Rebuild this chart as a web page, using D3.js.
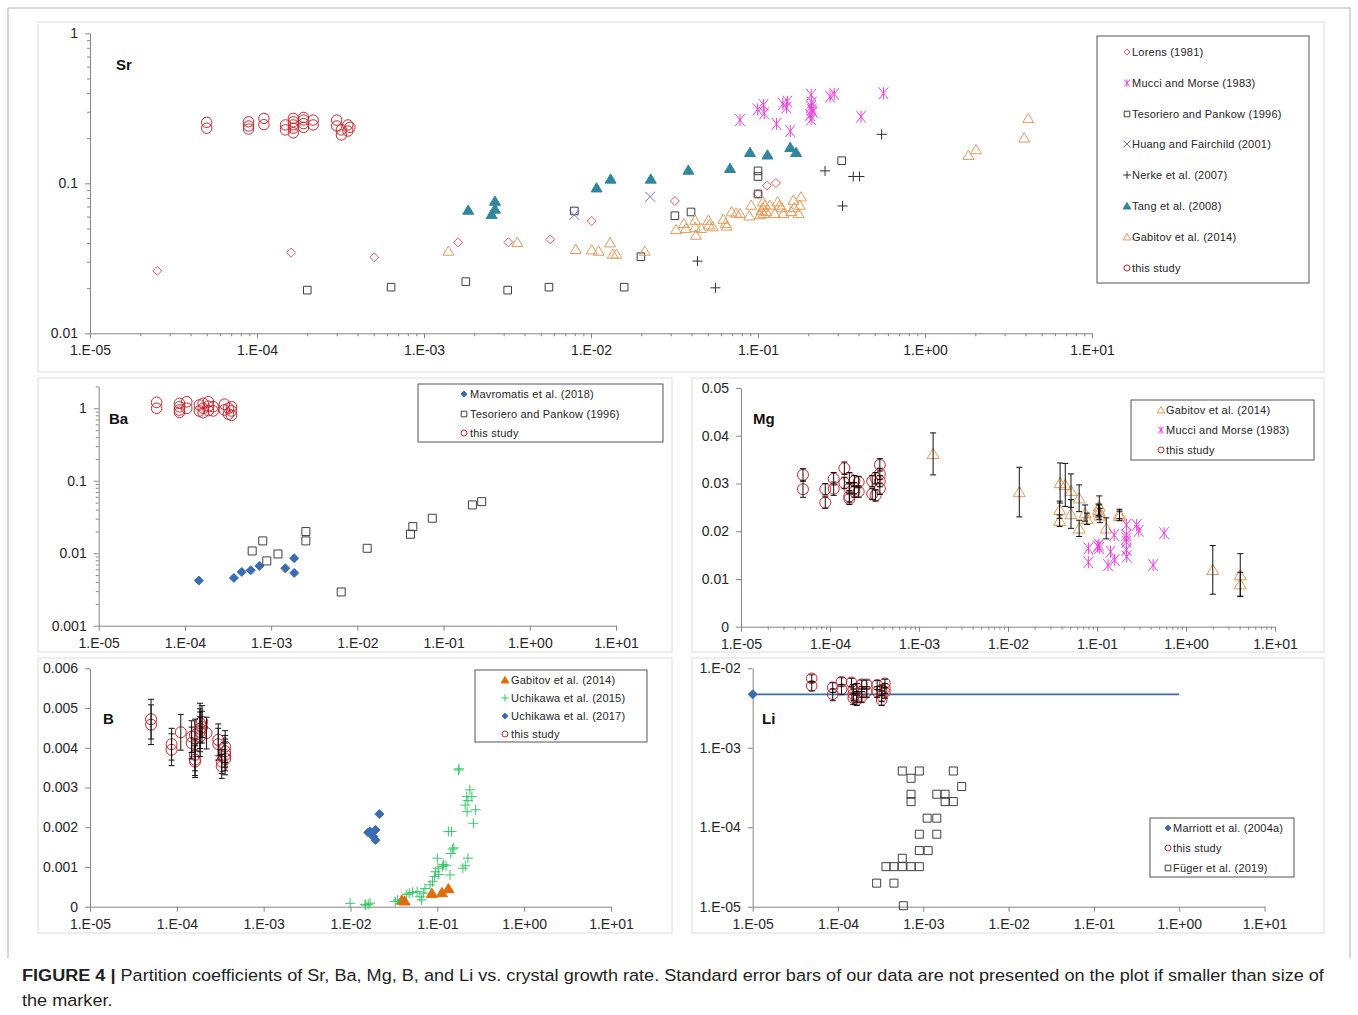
<!DOCTYPE html>
<html>
<head>
<meta charset="UTF-8">
<title>Figure 4 - partition coefficients</title>
<script src="https://d3js.org/d3.v7.min.js"></script>
<style>
  body { margin: 0; background: #fff; }
  svg text { font-family: "Liberation Sans", Arial, sans-serif; }
  .axis .domain, .axis line { stroke: #868686; }
  .axis text { fill: #262626; font-size: 14px; font-family: "Liberation Sans", Arial, sans-serif; }
  .legend text { font-size: 11px; fill: #262626; letter-spacing: 0.22px; }
</style>
</head>
<body>
<svg id="fig" width="1358" height="1015"></svg>
<script>
// ---------- tick labels ----------
const xTickVals = [1e-5, 1e-4, 1e-3, 1e-2, 1e-1, 1, 10];
const srYTicks = [0.01, 0.1, 1];
const srYLabels = ["0.01", "0.1", "1"];
const baYTicks = [0.001, 0.01, 0.1, 1];
const baYLabels = ["0.001", "0.01", "0.1", "1"];
const mgYTicks = [0, 0.01, 0.02, 0.03, 0.04, 0.05];
const mgYLabels = ["0", "0.01", "0.02", "0.03", "0.04", "0.05"];
const bYTicks = [0, 0.001, 0.002, 0.003, 0.004, 0.005, 0.006];
const bYLabels = ["0", "0.001", "0.002", "0.003", "0.004", "0.005", "0.006"];
const liYTicks = [1e-5, 1e-4, 1e-3, 1e-2];
const liYLabels = ["1.E-05", "1.E-04", "1.E-03", "1.E-02"];

// ---------- Sr ----------
const srLorens = [[2.53e-5,0.0261],[1.6e-4,0.0345],[5.04e-4,0.0321],[1.6e-3,0.0404],[3.2e-3,0.0404],[5.7e-3,0.0423],[1.01e-2,0.0561],[3.18e-2,0.0762],[0.1,0.085],[0.113,0.0964],[0.128,0.1005]];
const srMucci = [[7.8e-2,0.264],[0.0995,0.311],[0.108,0.333],[0.109,0.293],[0.129,0.249],[0.141,0.338],[0.15,0.35],[0.148,0.32],[0.156,0.223],[0.208,0.388],[0.208,0.324],[0.213,0.300],[0.208,0.267],[0.21,0.345],[0.21,0.31],[0.205,0.285],[0.27,0.378],[0.286,0.394],[0.414,0.278],[0.564,0.398]];
const srTesoriero = [[2.0e-4,0.0194],[6.35e-4,0.0203],[1.78e-3,0.0221],[3.17e-3,0.0194],[5.6e-3,0.0203],[1.58e-2,0.0203],[1.99e-2,0.0324],[7.95e-3,0.0654],[3.18e-2,0.0608],[3.97e-2,0.0644],[0.1,0.121],[0.1,0.111],[0.1,0.0849],[0.317,0.1415]];
const srHuang = [[7.95e-3,0.0615],[2.26e-2,0.0814]];
const srNerke = [[4.34e-2,0.0303],[5.56e-2,0.0201],[0.252,0.121],[0.321,0.0706],[0.372,0.111],[0.405,0.111],[0.55,0.212]];
const srTang = [[1.84e-3,0.0664],[2.66e-3,0.0762],[2.66e-3,0.0675],[2.54e-3,0.0621],[1.08e-2,0.0935],[1.31e-2,0.107],[2.28e-2,0.107],[3.83e-2,0.1227],[6.8e-2,0.126],[8.95e-2,0.161],[0.114,0.155],[0.156,0.174],[0.169,0.161]];
const srGabitov = [[1.4e-3,0.0354],[3.62e-3,0.0404],[8.1e-3,0.0363],[1.01e-2,0.0361],[1.11e-2,0.0354],[1.3e-2,0.0402],[1.35e-2,0.0338],[1.42e-2,0.0338],[2.1e-2,0.0354],[3.23e-2,0.0493],[3.6e-2,0.0541],[3.7e-2,0.0501],[4.2e-2,0.0569],[4.2e-2,0.0511],[4.25e-2,0.0452],[4.57e-2,0.0501],[5.05e-2,0.0569],[5.1e-2,0.053],[5.35e-2,0.0515],[6.2e-2,0.0578],[6.4e-2,0.054],[6.5e-2,0.052],[6.95e-2,0.0647],[7.4e-2,0.0635],[7.8e-2,0.063],[8.87e-2,0.0608],[9.1e-2,0.0717],[0.103,0.062],[0.105,0.066],[0.107,0.0754],[0.107,0.069],[0.108,0.063],[0.11,0.072],[0.112,0.065],[0.118,0.0717],[0.126,0.063],[0.131,0.0754],[0.135,0.0717],[0.138,0.069],[0.142,0.063],[0.158,0.065],[0.163,0.0774],[0.165,0.069],[0.175,0.063],[0.178,0.0717],[0.181,0.0814],[1.82,0.154],[2.02,0.168],[3.93,0.201],[4.15,0.271]];
const srThis = [[5.0e-5,0.255],[5.0e-5,0.233],[8.9e-5,0.257],[8.9e-5,0.241],[8.9e-5,0.230],[1.1e-4,0.271],[1.1e-4,0.246],[1.48e-4,0.245],[1.48e-4,0.227],[1.65e-4,0.271],[1.65e-4,0.257],[1.65e-4,0.245],[1.65e-4,0.233],[1.65e-4,0.217],[1.9e-4,0.275],[1.9e-4,0.264],[1.9e-4,0.25],[1.9e-4,0.236],[2.17e-4,0.264],[2.17e-4,0.245],[3.0e-4,0.264],[3.0e-4,0.241],[3.2e-4,0.227],[3.2e-4,0.21],[3.5e-4,0.245],[3.5e-4,0.223],[3.6e-4,0.236]];

// ---------- Ba ----------
const baMavromatis = [[1.45e-4,0.0042],[3.7e-4,0.00456],[4.56e-4,0.00552],[5.8e-4,0.00582],[7.3e-4,0.00668],[1.46e-3,0.0062],[1.85e-3,0.00853],[1.85e-3,0.00535]];
const baTesoriero = [[6.03e-4,0.01075],[8.0e-4,0.0148],[8.9e-4,0.00783],[1.2e-3,0.00977],[2.53e-3,0.0199],[2.53e-3,0.0148],[6.5e-3,0.00292],[1.3e-2,0.0117],[4.13e-2,0.0183],[4.4e-2,0.0233],[7.4e-2,0.0304],[0.216,0.0464],[0.277,0.0515]];
const baThis = [[4.7e-5,1.21],[4.7e-5,1.0],[8.65e-5,1.17],[8.65e-5,1.05],[8.65e-5,0.947],[8.65e-5,0.88],[1.05e-4,1.23],[1.05e-4,1.0],[1.47e-4,1.11],[1.47e-4,0.918],[1.63e-4,1.17],[1.63e-4,1.0],[1.63e-4,0.87],[1.87e-4,1.23],[1.87e-4,1.07],[1.87e-4,0.93],[2.13e-4,1.05],[2.13e-4,0.92],[2.87e-4,1.14],[2.87e-4,0.95],[3.2e-4,1.0],[3.2e-4,0.83],[3.47e-4,1.05],[3.47e-4,0.92],[3.47e-4,0.8]];

// ---------- Mg ([x, y, error]) ----------
const mgGabitov = [[1.44e-3,0.0362,0.0044],[1.34e-2,0.0282,0.0052],[3.85e-2,0.0301,0.0042],[3.8e-2,0.0245,0.0018],[3.8e-2,0.0222,0.0012],[4.4e-2,0.0297,0.0045],[5.1e-2,0.0285,0.0035],[5.1e-2,0.0236,0.003],[6.3e-2,0.0269,0.0028],[6.3e-2,0.0206,0.0017],[7.35e-2,0.0238,0.0017],[7.7e-2,0.0226,0.0012],[0.106,0.0252,0.0022],[0.106,0.024,0.0015],[0.108,0.0233,0.0015],[0.104,0.0245,0.0012],[0.127,0.0206,0.0022],[0.179,0.0236,0.001],[0.179,0.0232,0.001],[2.0,0.0119,0.0051],[4.07,0.0108,0.0045],[4.07,0.0089,0.0025]];
const mgMucci = [[8.0e-2,0.0164],[8.0e-2,0.0135],[0.102,0.0168],[0.105,0.0172],[0.106,0.0165],[0.133,0.0129],[0.142,0.0157],[0.158,0.014],[0.156,0.0192],[0.214,0.0213],[0.214,0.0192],[0.214,0.0185],[0.214,0.0178],[0.214,0.0161],[0.216,0.0147],[0.279,0.0213],[0.295,0.0201],[0.427,0.0129],[0.568,0.0196]];
const mgThis = [[4.97e-5,0.0318,0.0013],[4.97e-5,0.0288,0.0017],[8.85e-5,0.0288,0.0012],[8.85e-5,0.026,0.0012],[1.1e-4,0.031,0.0013],[1.1e-4,0.0289,0.0014],[1.45e-4,0.0332,0.0013],[1.45e-4,0.0301,0.0012],[1.65e-4,0.0311,0.0012],[1.65e-4,0.029,0.0012],[1.65e-4,0.0273,0.0012],[1.65e-4,0.0268,0.0012],[1.88e-4,0.0305,0.0012],[1.88e-4,0.029,0.0012],[1.88e-4,0.0283,0.0012],[2.1e-4,0.0303,0.0012],[2.1e-4,0.0283,0.0012],[2.98e-4,0.0305,0.0012],[2.98e-4,0.0278,0.0012],[3.25e-4,0.0311,0.0012],[3.25e-4,0.0275,0.0012],[3.63e-4,0.0339,0.0013],[3.63e-4,0.032,0.0012],[3.63e-4,0.0305,0.0012],[3.63e-4,0.0289,0.0012]];

// ---------- B ----------
const bGabitov = [[3.9e-2,0.00017],[4.2e-2,0.00015],[8.65e-2,0.00034],[0.113,0.00036],[0.134,0.00046]];
const bUchikawa2015 = [[9.9e-3,0.000086],[1.47e-2,0.00006],[1.6e-2,0.00006],[1.5e-2,0.00004],[1.68e-2,0.00009],[3.27e-2,0.00013],[3.5e-2,0.00017],[4.45e-2,0.00031],[4.75e-2,0.00034],[5.2e-2,0.00036],[5.85e-2,0.00038],[6.3e-2,0.00025],[6.6e-2,0.00017],[6.9e-2,0.00034],[7.2e-2,0.00046],[8.26e-2,0.00055],[8.8e-2,0.00063],[9.3e-2,0.00076],[9.5e-2,0.00088],[0.1,0.00122],[0.102,0.00097],[0.104,0.00081],[0.115,0.00101],[0.118,0.00106],[0.126,0.00103],[0.14,0.0008],[0.134,0.00189],[0.146,0.00189],[0.143,0.00134],[0.15,0.00145],[0.155,0.00148],[0.175,0.00344],[0.178,0.00347],[0.197,0.00097],[0.21,0.00103],[0.225,0.00122],[0.209,0.00256],[0.218,0.00277],[0.237,0.00294],[0.225,0.00267],[0.22,0.00239],[0.25,0.00277],[0.276,0.00244],[0.26,0.0021]];
const bUchikawa2017 = [[2.15e-2,0.00233],[1.68e-2,0.00189],[1.94e-2,0.00193],[1.84e-2,0.00176],[1.94e-2,0.00168],[1.6e-2,0.00187]];
const bThis = [[5.05e-5,0.00472,0.0005],[5.05e-5,0.00458,0.0005],[8.7e-5,0.00409,0.0004],[8.7e-5,0.00395,0.0004],[1.11e-4,0.00439,0.00045],[1.48e-4,0.00428,0.0004],[1.48e-4,0.00412,0.0004],[1.62e-4,0.00432,0.0004],[1.62e-4,0.00382,0.0004],[1.62e-4,0.0037,0.0004],[1.62e-4,0.00365,0.0004],[1.85e-4,0.00462,0.0005],[1.85e-4,0.00448,0.0005],[1.85e-4,0.0044,0.0005],[1.85e-4,0.00428,0.0005],[1.95e-4,0.00466,0.0004],[1.95e-4,0.00452,0.0004],[2.2e-4,0.00437,0.0004],[3.0e-4,0.0042,0.0004],[3.0e-4,0.00409,0.0004],[3.29e-4,0.00365,0.0003],[3.29e-4,0.00353,0.0003],[3.6e-4,0.00403,0.0004],[3.6e-4,0.00391,0.0004],[3.6e-4,0.00382,0.0004],[3.6e-4,0.00372,0.0004]];

// ---------- Li ----------
const liMarriott = [[1e-5,0.0047],[1,0.0047]];
const liThis = [[4.92e-5,0.00748,0.0008],[4.92e-5,0.0060,0.0008],[8.67e-5,0.00577,0.0008],[8.67e-5,0.00471,0.0008],[1.1e-4,0.00679,0.0008],[1.1e-4,0.00545,0.0008],[1.44e-4,0.00667,0.0008],[1.51e-4,0.00545,0.0008],[1.51e-4,0.00471,0.0008],[1.51e-4,0.0042,0.0007],[1.66e-4,0.0056,0.0008],[1.66e-4,0.0044,0.0007],[1.66e-4,0.004,0.0006],[1.9e-4,0.0063,0.0008],[1.9e-4,0.00508,0.0008],[1.9e-4,0.0044,0.0007],[2.17e-4,0.0063,0.0008],[2.17e-4,0.00508,0.0008],[2.88e-4,0.0062,0.0008],[2.88e-4,0.00508,0.0008],[3.25e-4,0.00533,0.0008],[3.25e-4,0.0045,0.0007],[3.25e-4,0.004,0.0006],[3.55e-4,0.00648,0.0008],[3.55e-4,0.0056,0.0008],[3.55e-4,0.005,0.0008]];
const liFuger = [[5.67e-4,5.1e-4],[8.98e-4,5.1e-4],[2.25e-3,5.1e-4],[7.18e-4,4.13e-4],[2.82e-3,3.25e-4],[7.18e-4,2.6e-4],[1.44e-3,2.6e-4],[1.8e-3,2.6e-4],[7.18e-4,2.1e-4],[1.8e-3,2.1e-4],[2.25e-3,2.1e-4],[1.11e-3,1.3e-4],[1.44e-3,1.3e-4],[8.98e-4,8.17e-5],[1.44e-3,8.17e-5],[8.98e-4,5.08e-5],[1.14e-3,5.08e-5],[5.67e-4,4.07e-5],[3.65e-4,3.19e-5],[4.53e-4,3.19e-5],[5.67e-4,3.19e-5],[7.18e-4,3.19e-5],[8.98e-4,3.19e-5],[2.84e-4,1.98e-5],[4.53e-4,1.98e-5],[5.83e-4,1.03e-5]];

// ---------- colours ----------
const cThis = "#c9252c", cLorens = "#e8585c", cMucci = "#f03ce0", cTes = "#3f3f3f",
      cHuang = "#6f6fe0", cNerke = "#2f2f2f", cTang = "#2f869d", cGab = "#e49a58",
      cGabFill = "#e36c0a", cUch15 = "#38c66a", cBlue = "#3b6db4", cErr = "#111";

const svg = d3.select("#fig");

function fmtE(v) {
  const e = Math.round(Math.log10(v));
  return "1.E" + (e < 0 ? "-" : "+") + String(Math.abs(e)).padStart(2, "0");
}

function shape(type, s) {
  const p = d3.path();
  if (type === "circle") { p.moveTo(s, 0); p.arc(0, 0, s, 0, 2 * Math.PI); return p.toString(); }
  if (type === "diamond") return `M0,${-s}L${s},0L0,${s}L${-s},0Z`;
  if (type === "square") return `M${-s},${-s}h${2 * s}v${2 * s}h${-2 * s}Z`;
  if (type === "triangle") return `M0,${-s}L${s * 1.1},${s * 0.85}L${-s * 1.1},${s * 0.85}Z`;
  if (type === "x") return `M${-s},${-s}L${s},${s}M${-s},${s}L${s},${-s}`;
  if (type === "plus") return `M${-s},0H${s}M0,${-s}V${s}`;
  if (type === "star") return `M${-s * 0.8},${-s}L${s * 0.8},${s}M${-s * 0.8},${s}L${s * 0.8},${-s}M0,${-s}V${s}`;
}

function scatter(g, x, y, data, type, s, color, filled) {
  g.append("g").selectAll("path").data(data).join("path")
    .attr("transform", d => `translate(${x(d[0])},${y(d[1])})`)
    .attr("d", shape(type, s))
    .attr("fill", filled ? color : "none")
    .attr("stroke", color)
    .attr("stroke-width", 1);
}

function errorBars(g, x, y, data) {
  const eb = g.append("g").attr("stroke", cErr).attr("stroke-width", 1);
  eb.selectAll(".v").data(data).join("line").attr("class", "v")
    .attr("x1", d => x(d[0])).attr("x2", d => x(d[0]))
    .attr("y1", d => y(d[1] - d[2])).attr("y2", d => y(d[1] + d[2]));
  eb.selectAll(".t").data(data).join("line").attr("class", "t")
    .attr("x1", d => x(d[0]) - 3).attr("x2", d => x(d[0]) + 3)
    .attr("y1", d => y(d[1] + d[2])).attr("y2", d => y(d[1] + d[2]));
  eb.selectAll(".b").data(data).join("line").attr("class", "b")
    .attr("x1", d => x(d[0]) - 3).attr("x2", d => x(d[0]) + 3)
    .attr("y1", d => y(d[1] - d[2])).attr("y2", d => y(d[1] - d[2]));
}

function logMinors(lo, hi) {
  const out = [];
  for (let e = Math.floor(Math.log10(lo)); e < Math.ceil(Math.log10(hi)); e++)
    for (let k = 2; k <= 9; k++) { const v = k * Math.pow(10, e); if (v > lo && v <= hi * 1.0001) out.push(v); }
  return out;
}

function axes(x, y, yTicks, yLabels, opt) {
  const y0 = y.range()[0], x0 = x.range()[0];
  svg.append("g").attr("class", "axis").attr("transform", `translate(0,${y0})`)
    .call(d3.axisBottom(x).tickValues(xTickVals).tickFormat(fmtE).tickSize(5).tickSizeOuter(0).tickPadding(7));
  if (opt.xMinor) {
    svg.append("g").attr("class", "axis").attr("transform", `translate(0,${y0})`)
      .call(d3.axisBottom(x).tickValues(logMinors(1e-5, 10)).tickFormat("").tickSize(3).tickSizeOuter(0))
      .select(".domain").remove();
  }
  svg.append("g").attr("class", "axis").attr("transform", `translate(${x0},0)`)
    .call(d3.axisLeft(y).tickValues(yTicks).tickFormat((d, i) => yLabels[i]).tickSize(5).tickSizeOuter(0).tickPadding(7));
  if (opt.yMinor) {
    const dm = y.domain();
    svg.append("g").attr("class", "axis").attr("transform", `translate(${x0},0)`)
      .call(d3.axisLeft(y).tickValues(logMinors(dm[0], dm[1])).tickFormat("").tickSize(3).tickSizeOuter(0))
      .select(".domain").remove();
  }
}

function panelBox(x0, y0, x1, y1) {
  svg.append("rect").attr("x", x0).attr("y", y0).attr("width", x1 - x0).attr("height", y1 - y0)
    .attr("fill", "none").attr("stroke", "#dcdcdc");
}

function panelLabel(text, px, py) {
  svg.append("text").attr("x", px).attr("y", py).text(text)
    .attr("font-family", "'Open Sans', 'DejaVu Sans', sans-serif").attr("font-weight", "bold")
    .attr("font-size", 15).attr("fill", "#111");
}

function legend(box, entries, mx, tx, ys) {
  const g = svg.append("g").attr("class", "legend");
  g.append("rect").attr("x", box[0]).attr("y", box[1]).attr("width", box[2] - box[0]).attr("height", box[3] - box[1])
    .attr("fill", "#fff").attr("stroke", "#555");
  entries.forEach((e, i) => {
    g.append("path").attr("transform", `translate(${mx},${ys[i]})`).attr("d", shape(e.type, e.s || 3))
      .attr("fill", e.filled ? e.color : "none").attr("stroke", e.color);
    g.append("text").attr("x", tx).attr("y", ys[i] + 4).text(e.label);
  });
}

// outer frame
svg.append("path").attr("d", "M8,958V8H1350V958").attr("fill", "none").attr("stroke", "#b0b0b0");

// ================= Sr =================
panelBox(38, 22, 1324, 372);
{
  const x = d3.scaleLog().domain([1e-5, 10]).range([90, 1092]);
  const y = d3.scaleLog().domain([0.01, 1]).range([333.3, 33.3]);
  axes(x, y, srYTicks, srYLabels, { xMinor: true, yMinor: true });
  const g = svg.append("g");
  scatter(g, x, y, srLorens, "diamond", 4.5, cLorens, false);
  scatter(g, x, y, srMucci, "star", 6, cMucci, false);
  scatter(g, x, y, srTesoriero, "square", 3.8, cTes, false);
  scatter(g, x, y, srHuang, "x", 5, cHuang, false);
  scatter(g, x, y, srNerke, "plus", 5, cNerke, false);
  scatter(g, x, y, srTang, "triangle", 5, cTang, true);
  scatter(g, x, y, srGabitov, "triangle", 5, cGab, false);
  scatter(g, x, y, srThis, "circle", 5.2, cThis, false);
  panelLabel("Sr", 116, 70);
  legend([1097, 36, 1309, 283], [
    { label: "Lorens (1981)", type: "diamond", color: cLorens },
    { label: "Mucci and Morse (1983)", type: "star", color: cMucci, s: 3.5 },
    { label: "Tesoriero and Pankow (1996)", type: "square", color: cTes, s: 2.8 },
    { label: "Huang and Fairchild (2001)", type: "x", color: cHuang, s: 3.5 },
    { label: "Nerke et al. (2007)", type: "plus", color: cNerke, s: 3.8 },
    { label: "Tang et al. (2008)", type: "triangle", color: cTang, filled: true, s: 3.5 },
    { label: "Gabitov et al. (2014)", type: "triangle", color: cGab, s: 3.5 },
    { label: "this study", type: "circle", color: cThis }
  ], 1127, 1132, [52, 83, 114, 144, 175, 206, 237, 268]);
}

// ================= Ba =================
panelBox(38, 378, 672, 652);
{
  const x = d3.scaleLog().domain([1e-5, 10]).range([98.7, 616]);
  const y = d3.scaleLog().domain([0.001, 2]).range([625.7, 408.3 - Math.log10(2) * 72.5]);
  axes(x, y, baYTicks, baYLabels, { xMinor: false, yMinor: true });
  const g = svg.append("g");
  scatter(g, x, y, baMavromatis, "diamond", 4.5, cBlue, true);
  scatter(g, x, y, baTesoriero, "square", 4, cTes, false);
  scatter(g, x, y, baThis, "circle", 5.3, cThis, false);
  panelLabel("Ba", 109, 424);
  legend([418, 384, 663, 442], [
    { label: "Mavromatis et al. (2018)", type: "diamond", color: cBlue, filled: true },
    { label: "Tesoriero and Pankow (1996)", type: "square", color: cTes, s: 2.8 },
    { label: "this study", type: "circle", color: cThis }
  ], 464, 470, [394, 414, 433]);
}

// ================= Mg =================
panelBox(692, 378, 1324, 652);
{
  const x = d3.scaleLog().domain([1e-5, 10]).range([741, 1275]);
  const y = d3.scaleLinear().domain([0, 0.05]).range([626.7, 388]);
  axes(x, y, mgYTicks, mgYLabels, { xMinor: true, yMinor: false });
  const g = svg.append("g");
  scatter(g, x, y, mgGabitov, "triangle", 5.5, cGab, false);
  errorBars(g, x, y, mgGabitov);
  scatter(g, x, y, mgMucci, "star", 6, cMucci, false);
  scatter(g, x, y, mgThis, "circle", 5.5, cThis, false);
  errorBars(g, x, y, mgThis);
  panelLabel("Mg", 753, 424);
  legend([1131, 400, 1314, 460], [
    { label: "Gabitov et al. (2014)", type: "triangle", color: cGab, s: 3.5 },
    { label: "Mucci and Morse (1983)", type: "star", color: cMucci, s: 3.5 },
    { label: "this study", type: "circle", color: cThis }
  ], 1161, 1166, [410, 430, 450]);
}

// ================= B =================
panelBox(38, 658, 672, 933);
{
  const x = d3.scaleLog().domain([1e-5, 10]).range([90, 611]);
  const y = d3.scaleLinear().domain([0, 0.006]).range([906.7, 668.3]);
  axes(x, y, bYTicks, bYLabels, { xMinor: false, yMinor: false });
  const g = svg.append("g");
  scatter(g, x, y, bGabitov, "triangle", 5, cGabFill, true);
  scatter(g, x, y, bUchikawa2015, "plus", 5, cUch15, false);
  scatter(g, x, y, bUchikawa2017, "diamond", 4.5, cBlue, true);
  scatter(g, x, y, bThis, "circle", 5.5, cThis, false);
  errorBars(g, x, y, bThis);
  panelLabel("B", 103, 724);
  legend([475, 670, 647, 742], [
    { label: "Gabitov et al. (2014)", type: "triangle", color: cGabFill, filled: true, s: 3.5 },
    { label: "Uchikawa et al. (2015)", type: "plus", color: cUch15, s: 3.8 },
    { label: "Uchikawa et al. (2017)", type: "diamond", color: cBlue, filled: true },
    { label: "this study", type: "circle", color: cThis }
  ], 505, 511, [680, 698, 716, 734]);
}

// ================= Li =================
panelBox(692, 658, 1324, 933);
{
  const x = d3.scaleLog().domain([1e-5, 10]).range([752.7, 1264.5]);
  const y = d3.scaleLog().domain([1e-5, 1e-2]).range([906.7, 668.3]);
  axes(x, y, liYTicks, liYLabels, { xMinor: false, yMinor: false });
  const g = svg.append("g");
  g.append("path").datum(liMarriott)
    .attr("d", d3.line().x(d => x(d[0])).y(d => y(d[1])))
    .attr("fill", "none").attr("stroke", cBlue).attr("stroke-width", 1.8);
  scatter(g, x, y, liMarriott.slice(0, 1), "diamond", 4.5, cBlue, true);
  scatter(g, x, y, liThis, "circle", 5.3, cThis, false);
  errorBars(g, x, y, liThis);
  scatter(g, x, y, liFuger, "square", 4, cTes, false);
  panelLabel("Li", 762, 724);
  legend([1150, 818, 1294, 877], [
    { label: "Marriott et al. (2004a)", type: "diamond", color: cBlue, filled: true },
    { label: "this study", type: "circle", color: cThis },
    { label: "F\u00fcger et al. (2019)", type: "square", color: cTes, s: 2.8 }
  ], 1168, 1173, [828, 848, 868]);
}

// ================= caption =================
const cap = svg.append("g").attr("fill", "#231f20").attr("font-size", 17);
const l1 = cap.append("text").attr("x", 0).attr("y", 0)
  .attr("font-family", "'Liberation Sans Narrow', 'Liberation Sans', Arial, sans-serif");
l1.append("tspan").attr("font-weight", "bold").text("FIGURE 4 | ");
l1.append("tspan").text("Partition coefficients of Sr, Ba, Mg, B, and Li vs. crystal growth rate. Standard error bars of our data are not presented on the plot if smaller than size of");
const w1 = l1.node().getComputedTextLength();
const sx = 1303 / w1;
l1.attr("transform", `translate(22,981) scale(${sx},1)`);
cap.append("text").attr("font-family", "'Liberation Sans Narrow', 'Liberation Sans', Arial, sans-serif")
  .attr("transform", `translate(22,1006) scale(${sx},1)`).text("the marker.");
</script>
</body>
</html>
